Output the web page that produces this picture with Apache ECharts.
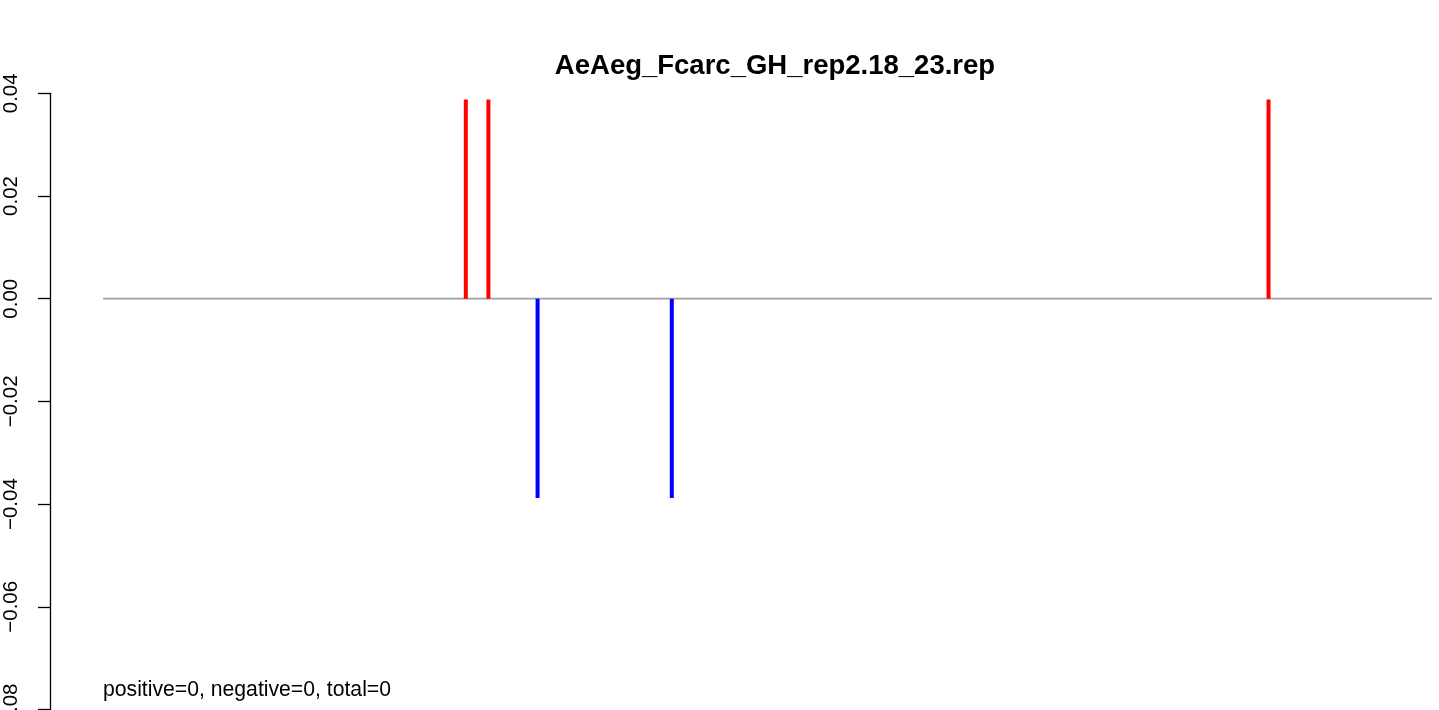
<!DOCTYPE html>
<html><head><meta charset="utf-8">
<script src="https://cdn.jsdelivr.net/npm/echarts@6/dist/echarts.min.js"></script>
<style>html,body{margin:0;padding:0;background:#fff}#c{width:1439px;height:710px}</style>
</head><body><div id="c"></div>
<script>
// Data
const titleText = 'AeAeg_Fcarc_GH_rep2.18_23.rep';
const footText = 'positive=0, negative=0, total=0';
const positions = [27.3, 29.0, 32.7, 42.8, 87.7];
const values = [0.0388, 0.0388, -0.0388, -0.0388, 0.0388];
const baseline = [[0, 0], [100, 0]];
const yTicks = [0.04, 0.02, 0.00, -0.02, -0.04, -0.06, -0.08];

const FONT = '"Liberation Sans", Arial, sans-serif';
const chart = echarts.init(document.getElementById('c'), null, {renderer: 'canvas'});
chart.setOption({
  animation: false,
  backgroundColor: '#fff',
  title: [
    {text: titleText, left: 775, top: 52, textAlign: 'center', padding: 0,
     textStyle: {fontFamily: FONT, fontSize: 27.5, fontWeight: 'bold', color: '#000'}},
    {text: footText, left: 103, top: 680, padding: 0,
     textStyle: {fontFamily: FONT, fontSize: 21.2, fontWeight: 'normal', color: '#000'}}
  ],
  grid: {left: 103, right: 7, top: 93.3, height: 616.2, containLabel: false, outerBoundsMode: 'none'},
  xAxis: {type: 'value', min: 0, max: 100, show: false},
  yAxis: {
    type: 'value', min: Math.min(...yTicks), max: Math.max(...yTicks), interval: 0.02,
    offset: 53,
    axisLine: {show: true, onZero: false, lineStyle: {color: '#000', width: 1.3}},
    axisTick: {show: true, length: 12, lineStyle: {color: '#000', width: 1.3}},
    splitLine: {show: false},
    axisLabel: {
      rotate: 90, margin: 28, color: '#000', fontFamily: FONT, fontSize: 20.5,
      formatter: v => (Math.round(v * 100) / 100).toFixed(2).replace('-', '\u2212')
    }
  },
  series: [
    {type: 'line', data: baseline, symbol: 'none', silent: true,
     lineStyle: {color: '#a0a0a0', width: 1.7}, z: 1},
    {type: 'bar', barWidth: 4, z: 2,
     data: positions.map((p, i) => [p, values[i]]),
     itemStyle: {color: params => params.value[1] >= 0 ? '#ff0000' : '#0000ff'}}
  ]
});
</script></body></html>
